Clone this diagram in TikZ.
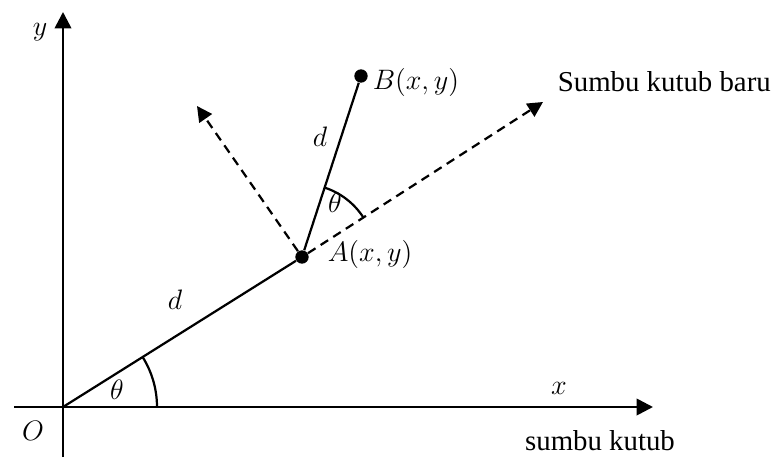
\documentclass[tikz,border=0pt]{standalone}
\usepackage{fontspec}
\setmainfont{Liberation Serif}
\usetikzlibrary{arrows.meta, positioning}
\tikzset{
  dot/.style={circle, fill=black, inner sep=0pt, minimum size=0.2cm},
  axis/.style={line width=1.15pt, -{Triangle[length=7pt,width=7pt]}},
  seg/.style={line width=0.95pt},
  dasharrow/.style={line width=0.95pt, dash pattern=on 3.8pt off 2.6pt, -{Triangle[length=6.5pt,width=6.5pt]}},
  lbl/.style={inner sep=1pt, font=\fontsize{12.3}{14}\selectfont}
}
\begin{document}
\begin{tikzpicture}[x=0.015cm, y=0.015cm]
  \useasboundingbox[fill=white] (0,0) rectangle (774,457);
  % points
  \coordinate (O) at (63,50);
  \coordinate (xs) at (14,50);
  \coordinate (xe) at (653,50);
  \coordinate (ys) at (63,0);
  \coordinate (ye) at (63,445);
  \node[dot] (A) at (302,200) {};
  \node[dot] (B) at (361,381) {};
  \coordinate (newax) at (543,355);
  \coordinate (perp) at (197,351);
  % axes
  \draw[axis] (xs) -- (xe);
  \draw[axis] (ys) -- (ye);
  % segments
  \draw[seg] (O) -- (A);
  \draw[seg] (A) -- (B);
  % new axes
  \draw[dasharrow] (A) -- (perp);
  \draw[dasharrow] (A) -- (newax);
  % angles
  \draw[seg] (O) ++(94,0) arc[start angle=0, end angle=32.1, radius=94];
  \draw[seg] (A.center) ++(32.7:73) arc[start angle=32.7, end angle=71.9, radius=73];
  % labels
  \node[lbl] (ylab) at (40,425) {$y$};
  \node[lbl] (xlab) at (559,69) {$x$};
  \node[lbl] (Olab) at (33,26) {$O$};
  \node[lbl] (pol) at (600,16) {sumbu kutub};
  \node[lbl, anchor=west] (newpol) at (555,375) {Sumbu kutub baru};
  \node[lbl, anchor=west] (Blab) at (370,375) {$B(x,y)$};
  \node[lbl, anchor=west] (Alab) at (325,203) {$A(x,y)$};
  \node[lbl] (dAB) at (320,320) {$d$};
  \node[lbl] (dOA) at (175,157) {$d$};
  \node[lbl] (thA) at (335,254) {$\theta$};
  \node[lbl] (thO) at (117,67) {$\theta$};
\end{tikzpicture}
\end{document}
